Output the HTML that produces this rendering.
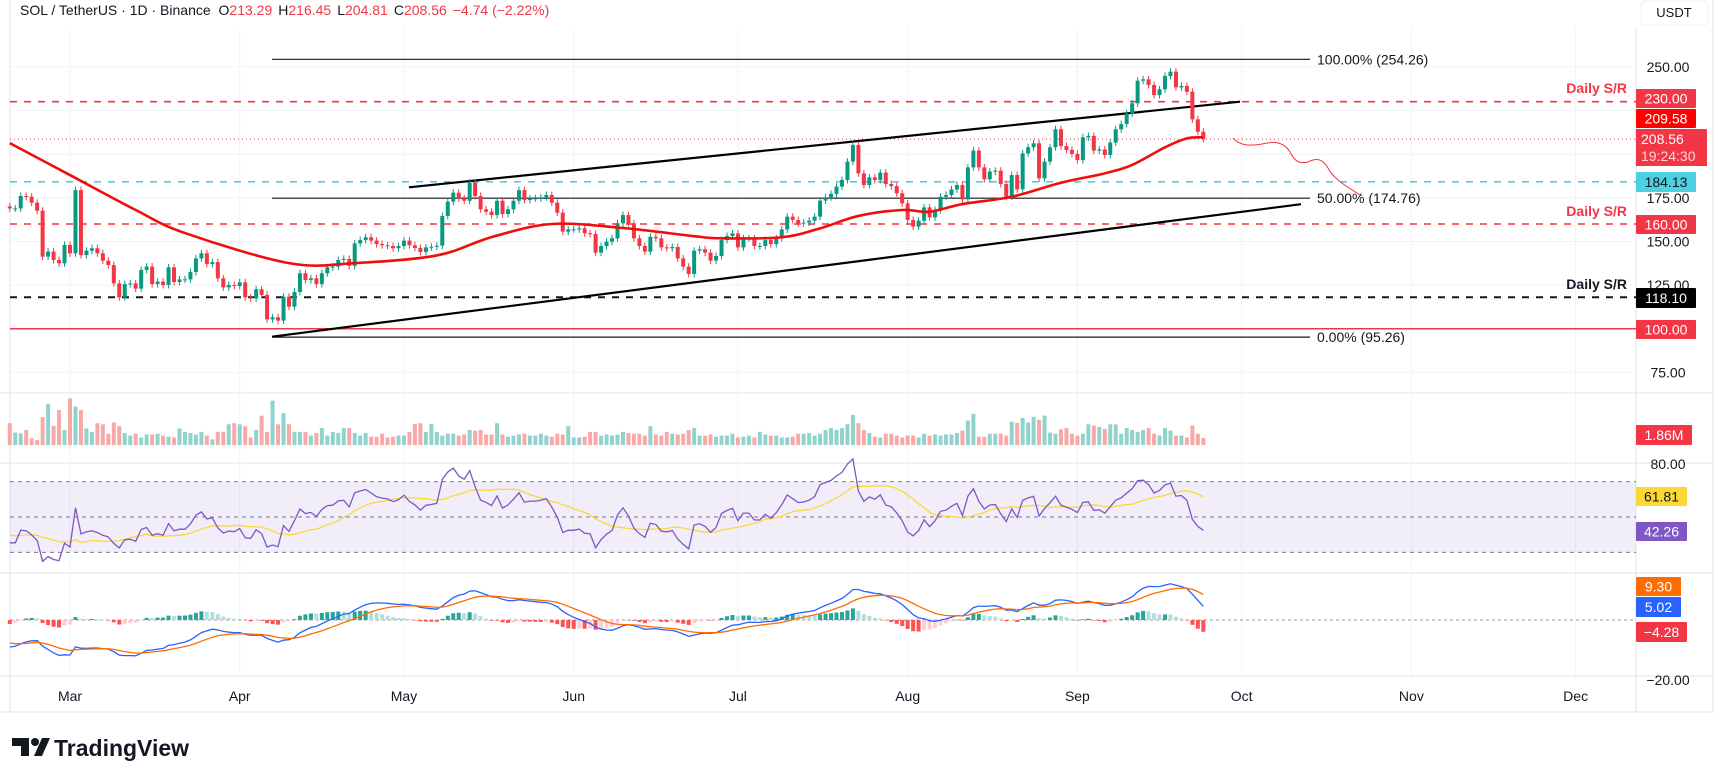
<!DOCTYPE html>
<html><head><meta charset="utf-8"><title>SOL/USDT chart</title>
<style>
html,body{margin:0;padding:0;background:#fff;}
svg{display:block;font-family:"Liberation Sans",sans-serif;}
</style></head>
<body>
<svg id="chart" width="1723" height="783" viewBox="0 0 1723 783" xmlns="http://www.w3.org/2000/svg">
  <rect x="0" y="0" width="1723" height="783" fill="#ffffff"/>
  <g id="grid"></g>
  <rect x="10" y="482" width="1626" height="70" fill="rgba(126,87,194,0.1)"/>
  <g id="levels"></g>
  <g id="vol"></g>
  <g id="candles"></g>
  <g id="ind"></g>
  <g id="labels"></g>
  <text x="20" y="15" font-size="14" fill="#131722">SOL / TetherUS · 1D · Binance <tspan dx="4">O</tspan><tspan fill="#f23645">213.29</tspan><tspan dx="6">H</tspan><tspan fill="#f23645">216.45</tspan><tspan dx="6">L</tspan><tspan fill="#f23645">204.81</tspan><tspan dx="6">C</tspan><tspan fill="#f23645">208.56</tspan><tspan dx="6" fill="#f23645">−4.74 (−2.22%)</tspan></text>
  <rect x="1641" y="1" width="67" height="24" rx="4" fill="#fff" stroke="#eef0f3"/>
  <text x="1674" y="17" font-size="13" fill="#131722" text-anchor="middle">USDT</text>
  <g>
    <path d="M12 738 h17 v18 h-8 v-10 h-9 z" fill="#131722"/>
    <circle cx="35" cy="742" r="4" fill="#131722"/>
    <path d="M34 756 l8 -18 h8 l-8 18 z" fill="#131722"/>
    <text x="54" y="756" font-size="23" font-weight="bold" fill="#131722">TradingView</text>
  </g>
</svg>
<script>
// ===== data =====
const startDay = -11; // Feb 18 relative to Mar 1
const closes = [168.9,168.9,176.0,175.6,172.2,167.6,141.3,144.2,139.4,137.5,148.0,143.2,179.4,142.2,144.7,146.1,143.2,139.0,136.5,126.0,118.0,125.6,126.0,123.0,133.7,135.6,125.6,127.0,125.1,135.2,126.8,128.3,128.3,132.5,140.3,143.2,137.1,138.2,128.9,123.7,125.1,124.5,126.6,118.0,117.4,122.6,119.4,105.4,106.6,104.7,118.4,112.7,121.1,131.8,127.9,128.9,125.6,
131.8,135.2,135.6,139.4,140.0,136.0,148.9,150.8,152.4,150.5,148.5,147.8,147.4,146.1,147.4,150.5,147.8,146.3,144.0,146.6,147.0,147.6,164.6,172.8,177.9,174.7,173.3,183.7,176.0,168.4,167.0,165.1,173.3,165.7,168.4,173.3,179.4,173.7,174.7,174.7,175.3,176.6,172.2,166.5,155.6,156.9,156.9,157.5,154.7,154.3,143.6,147.4,149.9,151.8,160.4,165.1,160.4,
151.8,147.4,144.2,152.7,151.8,146.6,146.1,146.8,140.3,135.6,131.4,144.7,145.5,143.6,139.0,141.7,150.8,153.1,154.6,146.6,151.8,151.8,147.4,147.4,150.8,148.5,151.8,156.9,164.2,162.3,160.4,160.8,161.9,164.2,173.4,175.3,177.2,181.4,185.2,195.7,205.2,189.0,182.3,186.7,185.2,189.4,182.9,181.7,177.6,171.8,162.3,158.5,161.9,169.5,163.8,168.0,
175.6,176.6,179.8,182.3,174.1,192.4,202.0,192.4,185.6,190.0,190.5,182.9,175.6,188.0,179.8,200.4,203.9,206.2,186.1,195.7,203.9,214.2,204.6,202.4,200.1,196.6,209.6,210.4,202.0,202.7,199.5,206.6,214.2,217.2,223.3,229.1,242.0,242.8,239.6,233.8,237.1,244.7,247.2,238.2,239.0,235.7,219.9,212.8,208.5];
const firstOpen = 170.0;
const volumes = [5.8,3.3,3.1,4.0,1.8,1.3,7.4,10.9,5.1,9.3,
4.0,12.4,10.2,9.3,4.4,3.5,5.8,5.5,3.0,6.0,
5.0,3.2,2.5,3.0,2.0,2.8,2.8,3.0,2.5,2.2,
2.0,4.4,3.5,3.2,2.8,3.5,2.5,1.5,3.5,3.5,
5.5,5.8,5.5,5.0,2.0,4.0,7.8,3.5,11.8,5.5,
8.5,5.5,3.5,3.5,3.5,2.5,3.2,4.5,2.5,3.5,
3.2,4.5,4.5,3.2,2.5,3.2,2.2,2.2,3.0,2.0,
2.2,2.5,2.5,3.5,5.6,5.8,3.5,5.6,3.5,2.5,
3.0,3.0,2.5,2.8,4.0,3.8,4.0,2.8,2.8,5.8,
2.8,2.2,2.5,2.8,3.0,2.5,2.5,3.0,2.5,2.2,
3.0,2.8,5.0,2.0,2.0,2.2,3.5,3.5,2.5,2.8,
2.5,2.8,3.5,3.2,3.0,3.0,2.5,5.0,2.8,2.5,
3.5,3.0,2.8,3.0,4.0,4.5,2.5,2.5,2.8,2.2,
2.5,2.5,3.0,2.0,2.2,2.5,2.0,3.5,2.8,2.5,
2.5,2.0,2.0,2.2,3.0,3.0,3.2,2.5,3.0,4.0,
4.5,4.0,4.5,5.5,8.0,5.8,4.0,3.2,2.2,2.0,
3.0,3.0,2.5,2.0,2.5,2.5,2.0,3.0,2.5,2.8,
2.5,2.8,2.8,3.2,3.8,6.5,8.3,2.2,2.2,3.0,
3.0,3.0,2.5,6.2,5.9,7.2,6.0,7.5,6.7,7.8,
3.3,3.0,4.2,4.5,3.0,2.5,3.0,5.5,5.2,4.8,
4.3,5.5,5.5,3.0,4.5,4.0,3.5,4.0,4.5,3.0,
2.5,4.5,3.8,2.5,2.5,2.0,5.2,3.0,1.86];
const maDays = [-11,0,12,21,40,52,67,77,88,101,114,119,130,137,144,152,157,163,172,181,189,194,200,204,207];
const maVals = [206.3,188,168,154.8,137.6,137.6,142,152.5,160,157.7,153,151.8,152.4,157.5,164.6,168,167,171.4,175.6,183.6,189,193.8,203.9,209,209.6];
const priorFast = 176;
const priorSlow = 186;
const priorSignal = -8;
const priorRsi = 36;
const monthLabels = ["Mar","Apr","May","Jun","Jul","Aug","Sep","Oct","Nov","Dec"];
const monthDays = [0,31,61,92,122,153,184,214,245,275];
const priceTicks = [250,175,150,125,75];
const gridPrices = [250,225,200,175,150,125,100,75];

// ===== axes =====
const NS="http://www.w3.org/2000/svg";
const xDay = d => 70 + d*5.475;
const yPrice = p => 101.7 + (230-p)*1.747;
const yVol = v => 445 - v*3.76;
const yRsi = v => 517 - (v-50)*1.767;
const yMacd = v => 620 - v*2.75;
function mk(tag, attrs, parent){const e=document.createElementNS(NS,tag);for(const k in attrs)e.setAttribute(k,attrs[k]);parent.appendChild(e);return e;}
const G=id=>document.getElementById(id);

// grid
const grid=G('grid');
monthDays.forEach((d,i)=>{
  const l=mk('line',{x1:xDay(d),x2:xDay(d),y1:28,y2:676,stroke:'#f0f3fa','stroke-width':1},grid);
  
  
  const t=mk('text',{x:xDay(d),y:701,'font-size':14,fill:'#131722','text-anchor':'middle'},G('labels'));
  t.textContent=monthLabels[i];
  
  
});
gridPrices.forEach(p=>{
  const l=mk('line',{x1:10,x2:1636,y1:yPrice(p),y2:yPrice(p),stroke:'#f0f3fa','stroke-width':1},grid);
  
  
});
[[0,393,1713,393],[0,463,1713,463],[0,573,1713,573],[0,676,1713,676],[0,712,1713,712],[1636,28,1636,712],[1713,0,1713,712],[10,0,10,712]].forEach(a=>{
  const l=mk('line',{x1:a[0],y1:a[1],x2:a[2],y2:a[3],stroke:'#e0e3eb','stroke-width':1},grid);
  
  
});
[yRsi(70),yRsi(50),yRsi(30)].forEach(y=>{
  const l=mk('line',{x1:10,x2:1636,y1:y,y2:y,stroke:'#787b86','stroke-width':1,'stroke-dasharray':'4 4'},grid);
  
  
});
const z=mk('line',{x1:10,x2:1636,y1:yMacd(0),y2:yMacd(0),stroke:'#9598a1','stroke-width':1,'stroke-dasharray':'3 3'},grid);



// levels
const lv=G('levels');
function hline(p,color,w,dash,name){const l=mk('line',{x1:10,x2:1636,y1:yPrice(p),y2:yPrice(p),stroke:color,'stroke-width':w},lv);if(dash)l.setAttribute('stroke-dasharray',dash);}
hline(230,'#f23645',1.6,'7 7','resistance-230-line');
hline(160,'#f23645',1.6,'7 7','support-160-line');
hline(184.13,'#4dd0e1',1.6,'7 7','level-184-line');
hline(118.1,'#131722',2,'7 7','support-118-line');
hline(100,'#f23645',1.5,null,'level-100-line');
hline(208.56,'#f23645',1,'1 3','last-price-line');
[[254.26,'fib-100-line'],[174.76,'fib-50-line'],[95.26,'fib-0-line']].forEach(f=>{
  const l=mk('line',{x1:272,x2:1310,y1:yPrice(f[0]),y2:yPrice(f[0]),stroke:'#131722','stroke-width':1.2},lv);
  
  
});
const ch1=mk('line',{x1:409,y1:187.3,x2:1240,y2:101.7,stroke:'#000','stroke-width':2.2},lv);


const ch2=mk('line',{x1:272,y1:336.7,x2:1301,y2:204.2,stroke:'#000','stroke-width':2.2},lv);


const fc=mk('path',{d:'M1233 138 C1240 146,1250 146,1262 144 C1275 141,1284 142,1290 152 C1295 162,1300 164,1308 162 C1316 158,1322 158,1328 168 C1333 178,1345 186,1362 196',fill:'none',stroke:'#f23645','stroke-width':1},lv);



// candles + volume
const cg=G('candles'), vg=G('vol');
const opens=closes.map((c,i)=>i===0?firstOpen:closes[i-1]);
closes.forEach((c,i)=>{
  const d=startDay+i, x=xDay(d), o=opens[i], up=c>=o;
  const col=up?'#089981':'#f23645';
  const hi=Math.max(o,c)+2, lo=Math.min(o,c)-2;
  const w=mk('line',{x1:x,x2:x,y1:yPrice(hi),y2:yPrice(lo),stroke:col,'stroke-width':1},cg);
  
  
  const yt=yPrice(Math.max(o,c)), yb=yPrice(Math.min(o,c));
  const b=mk('rect',{x:x-2,y:yt,width:4,height:Math.max(1,yb-yt),fill:col},cg);
  
  
  const v=volumes[i];
  const vb=mk('rect',{x:x-2,y:yVol(v),width:4,height:445-yVol(v),fill:up?'#92d2cc':'#f7a9a7'},vg);
  
  
});

// moving average (read points, smoothed)
const ind=G('ind');
function smoothPath(pts){let s='M'+pts[0][0]+' '+pts[0][1];for(let i=0;i<pts.length-1;i++){const p0=pts[Math.max(0,i-1)],p1=pts[i],p2=pts[i+1],p3=pts[Math.min(pts.length-1,i+2)];s+=' C'+(p1[0]+(p2[0]-p0[0])/6)+' '+(p1[1]+(p2[1]-p0[1])/6)+','+(p2[0]-(p3[0]-p1[0])/6)+' '+(p2[1]-(p3[1]-p1[1])/6)+','+p2[0]+' '+p2[1];}return s;}
const maPts=maDays.map((d,i)=>[xDay(d),yPrice(maVals[i])]);
const ma=mk('path',{d:smoothPath(maPts),fill:'none',stroke:'#f20d0d','stroke-width':2.6},ind);



// RSI (Wilder, seeded with prior state)
const rsi=[];let ag=priorRsi/100*5,al=(1-priorRsi/100)*5;
closes.forEach((c,i)=>{const prev=i===0?firstOpen:closes[i-1];const ch=c-prev;const g=Math.max(ch,0),l=Math.max(-ch,0);
  ag=(ag*13+g)/14;al=(al*13+l)/14;
  rsi.push(al===0?100:100-100/(1+ag/al));});
const rsiMa=[];let rmPrev=priorRsi+4;
rsi.forEach((v,i)=>{if(i<13){rmPrev=rmPrev+(v-rmPrev)/14;rsiMa.push(rmPrev);}else{const s=rsi.slice(i-13,i+1);rsiMa.push(s.reduce((a,b)=>a+b,0)/14);}});
const lineD=(arr,fy)=>arr.map((v,i)=>(i?'L':'M')+xDay(startDay+i).toFixed(1)+' '+fy(v).toFixed(1)).join(' ');
const rm=mk('path',{d:lineD(rsiMa,yRsi),fill:'none',stroke:'#fdd835','stroke-width':1.3},ind);


const rl=mk('path',{d:lineD(rsi,yRsi),fill:'none',stroke:'#7e57c2','stroke-width':1.3},ind);



// MACD
let e12=priorFast,e26=priorSlow,sig=priorSignal;const macd=[],signal=[],hist=[];
closes.forEach(c=>{e12=e12+(c-e12)*2/13;e26=e26+(c-e26)*2/27;const m=e12-e26;sig=sig+(m-sig)*0.2;macd.push(m);signal.push(sig);hist.push(m-sig);});
hist.forEach((h,i)=>{const prev=i?hist[i-1]:0;let col;
  if(h>=0)col=h>=prev?'#26a69a':'#b2dfdb';else col=h<=prev?'#ff5252':'#ffcdd2';
  const x=xDay(startDay+i);const y0=yMacd(0),y1=yMacd(h);
  const r=mk('rect',{x:x-2,y:Math.min(y0,y1),width:4,height:Math.max(0.5,Math.abs(y1-y0)),fill:col},ind);
  
  
});
const ml=mk('path',{d:lineD(macd,yMacd),fill:'none',stroke:'#2962ff','stroke-width':1.3},ind);


const sl=mk('path',{d:lineD(signal,yMacd),fill:'none',stroke:'#ff6d00','stroke-width':1.3},ind);



// labels
const lb=G('labels');
priceTicks.forEach(p=>{
  const t=mk('text',{x:1668,y:yPrice(p)+5,'font-size':14,fill:'#131722','text-anchor':'middle'},lb);
  t.textContent=p.toFixed(2);
  
  
});
[['80.00',464],['−20.00',680]].forEach(a=>{
  const t=mk('text',{x:1668,y:a[1]+5,'font-size':14,fill:'#131722','text-anchor':'middle'},lb);
  t.textContent=a[0];
  
  
});
function box(txt,y1,h,bg,fg,w,name){
  const r=mk('rect',{x:1636,y:y1,width:w||60,height:h,fill:bg,rx:1},lb);
  
  
  const t=mk('text',{x:1636+(w||60)/2,y:y1+h/2+5,'font-size':14,fill:fg,'text-anchor':'middle'},lb);
  t.textContent=txt;
  
  
}
box('230.00',89,19,'#f23645','#fff',60,'price-230');
box('209.58',109,19,'#ff0000','#fff',60,'ma-value');
const cr=mk('rect',{x:1636,y:129,width:71,height:37,fill:'#f23645'},lb);


const ct=mk('text',{x:1641,y:144,'font-size':14,fill:'#fff'},lb);ct.textContent='208.56';


const ct2=mk('text',{x:1641,y:161,'font-size':14,fill:'#ffd6da'},lb);ct2.textContent='19:24:30';


box('184.13',172,20,'#4dd0e1','#131722',60,'price-184');
box('160.00',215,19,'#f23645','#fff',60,'price-160');
box('118.10',288,20,'#000000','#fff',60,'price-118');
box('100.00',320,19,'#f23645','#fff',60,'price-100');
box('1.86M',425,20,'#f23645','#fff',56,'volume-value');
box('61.81',487,19,'#fdd835','#131722',51,'rsi-ma-value');
box('42.26',522,19,'#7e57c2','#fff',51,'rsi-value');
box('9.30',577,19,'#ff6d00','#fff',45,'signal-value');
box('5.02',597,20,'#2962ff','#fff',45,'macd-value');
box('−4.28',622,20,'#f23645','#fff',51,'histogram-value');
[['Daily S/R',93,'#f23645','sr-230-label'],['Daily S/R',216,'#f23645','sr-160-label'],['Daily S/R',289,'#131722','sr-118-label']].forEach(a=>{
  const t=mk('text',{x:1627,y:a[1],'font-size':14,'font-weight':'bold',fill:a[2],'text-anchor':'end'},lb);
  t.textContent=a[0];
  
  
});
[['100.00% (254.26)',254.26,'fib-100-label'],['50.00% (174.76)',174.76,'fib-50-label'],['0.00% (95.26)',95.26,'fib-0-label']].forEach(a=>{
  const t=mk('text',{x:1317,y:yPrice(a[1])+5,'font-size':14,fill:'#131722'},lb);
  t.textContent=a[0];
  
  
});
</script>
</body></html>
